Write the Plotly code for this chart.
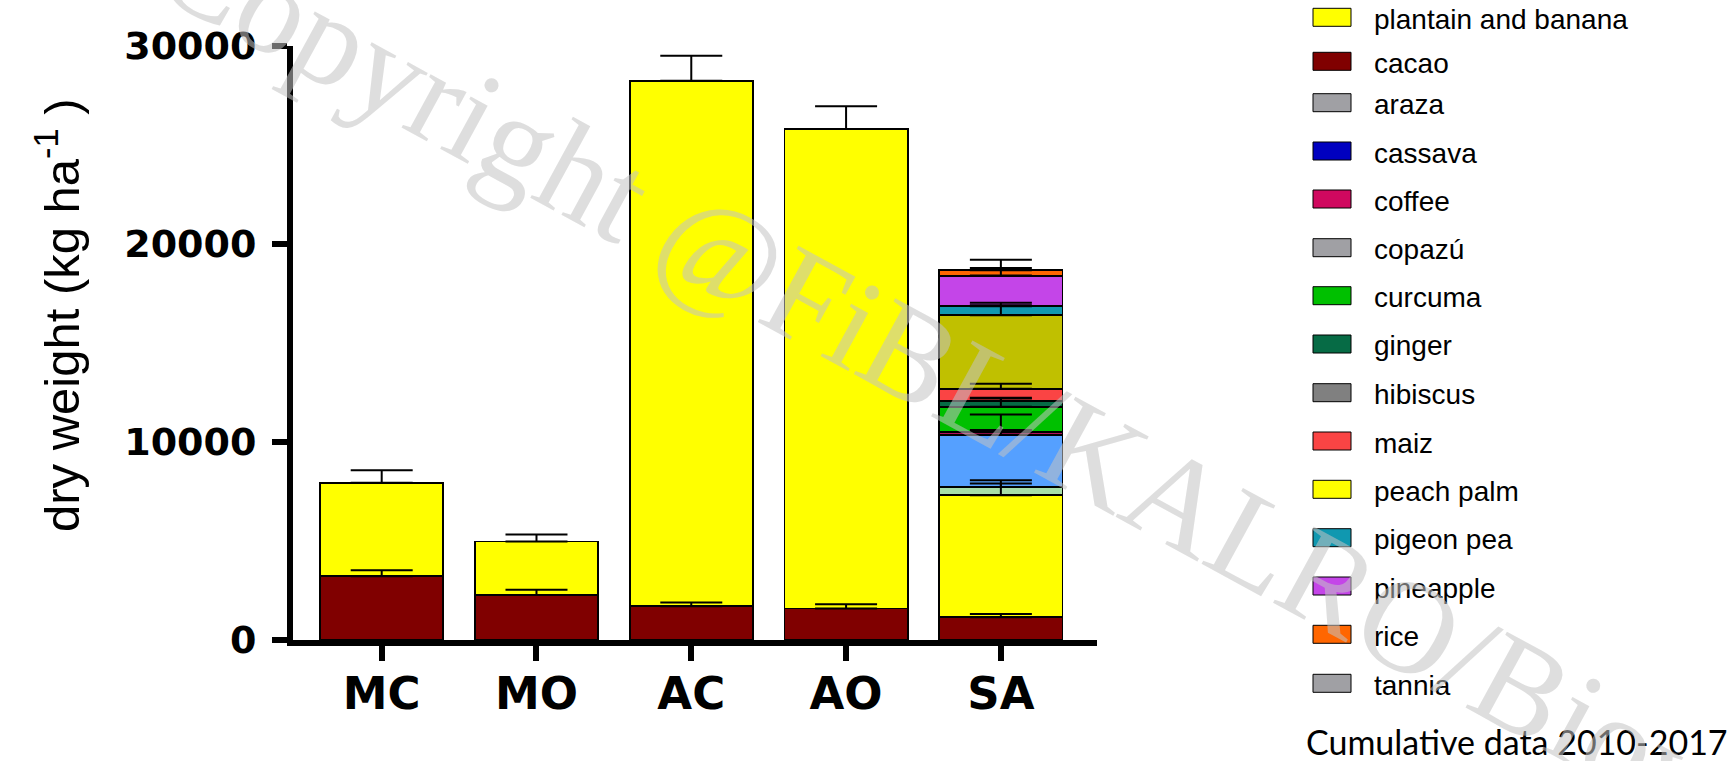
import numpy as np
import plotly.graph_objects as go

# ---- data -------------------------------------------------------------
categories = ["MC", "MO", "AC", "AO", "SA"]

# mean dry weight (kg/ha) and standard error per system; None = crop absent
cacao = [3225, 2272, 1704, 1587, 1145]
cacao_se = [300, 268, 184, 217, 166]
plantain_banana = [4712, 2707, 26547, 24226, 6166]
plantain_banana_se = [634, 351, 1258, 1149, 590]
araza = [None, None, None, None, 419]
araza_se = [0, 0, 0, 0, 337]
cassava = [None, None, None, None, 2642]
cassava_se = [0, 0, 0, 0, 1020]
coffee = [None, None, None, None, 141]
coffee_se = [0, 0, 0, 0, 90]
copazu = [None, None, None, None, None]
copazu_se = [0, 0, 0, 0, 0]
curcuma = [None, None, None, None, 1270]
curcuma_se = [0, 0, 0, 0, 419]
ginger = [None, None, None, None, 283]
ginger_se = [0, 0, 0, 0, 171]
hibiscus = [None, None, None, None, None]
hibiscus_se = [0, 0, 0, 0, 0]
maiz = [None, None, None, None, 625]
maiz_se = [0, 0, 0, 0, 252]
peach_palm = [None, None, None, None, 3711]
peach_palm_se = [0, 0, 0, 0, 505]
pigeon_pea = [None, None, None, None, 454]
pigeon_pea_se = [0, 0, 0, 0, 171]
pineapple = [None, None, None, None, 1548]
pineapple_se = [0, 0, 0, 0, 380]
rice = [None, None, None, None, 267]
rice_se = [0, 0, 0, 0, 539]
tannia = [None, None, None, None, None]
tannia_se = [0, 0, 0, 0, 0]

y_ticks = [0, 10000, 20000, 30000]
y_title = "dry weight (kg ha<sup>-1</sup> )"
note = "Cumulative data 2010-2017"
watermark = "Copyright @FiBL/KALRO/Biovision"

# stacking order, bottom to top
stack = [
    ("cacao", cacao, cacao_se),
    ("plantain and banana", plantain_banana, plantain_banana_se),
    ("araza", araza, araza_se),
    ("cassava", cassava, cassava_se),
    ("coffee", coffee, coffee_se),
    ("copazú", copazu, copazu_se),
    ("curcuma", curcuma, curcuma_se),
    ("ginger", ginger, ginger_se),
    ("hibiscus", hibiscus, hibiscus_se),
    ("maiz", maiz, maiz_se),
    ("peach palm", peach_palm, peach_palm_se),
    ("pigeon pea", pigeon_pea, pigeon_pea_se),
    ("pineapple", pineapple, pineapple_se),
    ("rice", rice, rice_se),
    ("tannia", tannia, tannia_se),
]

# legend order
legend_order = ["plantain and banana", "cacao", "araza", "cassava", "coffee", "copazú",
                "curcuma", "ginger", "hibiscus", "maiz", "peach palm", "pigeon pea",
                "pineapple", "rice", "tannia"]

# ---- styles -------------------------------------------------------------
bar_color = {
    "cacao": "#800000", "plantain and banana": "#FFFF00", "araza": "#A8DFA8",
    "cassava": "#55A0FF", "coffee": "#B0105A", "copazú": "#A0A0A4",
    "curcuma": "#00C000", "ginger": "#066B45", "hibiscus": "#808080",
    "maiz": "#FA4444", "peach palm": "#C0C000", "pigeon pea": "#1098B0",
    "pineapple": "#C445E8", "rice": "#FF6600", "tannia": "#A0A0A4",
}
key_color = dict(bar_color)
key_color.update({"araza": "#A0A0A4", "cassava": "#0000C0", "coffee": "#D0085F",
                  "peach palm": "#FFFF00"})

W, H = 1727, 761
L, R, T, B = 293, 630, 46, 121
PW, PH = W - L - R, H - T - B


def px(x):
    return (x - L) / PW


def py(y):
    return (H - B - y) / PH


fig = go.Figure()

# stacked bars
for name, vals, errs in stack:
    if all(v is None for v in vals):
        continue
    fig.add_trace(go.Bar(
        x=categories, y=vals, name=name,
        marker=dict(color=bar_color[name], line=dict(color="black", width=1.8)),
        hoverinfo="skip", showlegend=False,
    ))

# error bars (upper only) at the top of every stacked segment, drawn above all bars
base = np.zeros(len(categories))
for name, vals, errs in stack:
    v = np.array([np.nan if x is None else x for x in vals], dtype=float)
    top = base + np.nan_to_num(v)
    if not np.all(np.isnan(v)):
        tops = [float(t) if not np.isnan(s) else None for t, s in zip(top, v)]
        fig.add_trace(go.Scatter(
            x=categories, y=tops, mode="markers",
            marker=dict(size=1, color="rgba(0,0,0,0)"),
            error_y=dict(type="data", symmetric=False, array=errs,
                         arrayminus=[0] * len(errs), width=31, thickness=2,
                         color="black"),
            hoverinfo="skip", showlegend=False,
        ))
    base = top

fig.update_layout(
    width=W, height=H,
    margin=dict(l=L, r=R, t=T, b=B),
    barmode="stack", bargap=0.205,
    plot_bgcolor="white", paper_bgcolor="white",
    showlegend=False,
)

fig.update_xaxes(
    type="category", range=[-0.573, 4.621],
    showline=True, linewidth=6, linecolor="black",
    ticks="outside", ticklen=15, tickwidth=6, tickcolor="black",
    tickfont=dict(family="DejaVu Sans", size=45, color="black", weight="bold"),
    ticklabelstandoff=-6,
    showgrid=False, zeroline=False,
)
fig.update_yaxes(
    range=[0, 30000], tickvals=y_ticks, tickformat="d",
    showline=True, linewidth=6, linecolor="black",
    ticks="outside", ticklen=15, tickwidth=6, tickcolor="black",
    tickfont=dict(family="DejaVu Sans", size=38, color="black", weight="bold"),
    ticklabelstandoff=8,
    showgrid=False, zeroline=False,
)

shapes, annotations = [], []

# y-axis title, rotated
annotations.append(dict(xref="paper", yref="paper", x=px(58), y=py(315),
                        xanchor="center", yanchor="middle", showarrow=False,
                        text=y_title, textangle=-90,
                        font=dict(family="Liberation Sans", size=49, color="black")))

# legend key: swatches and names
key_y = [17.3, 61.3, 102.7, 151, 199, 247.7, 295.7, 344, 392.7, 441, 489.3, 537.7,
         586, 634.3, 683.3]
for name, yc in zip(legend_order, key_y):
    shapes.append(dict(type="rect", xref="paper", yref="paper",
                       x0=px(1313), x1=px(1351), y0=py(yc + 9), y1=py(yc - 9),
                       fillcolor=key_color[name], line=dict(color="black", width=1)))
    annotations.append(dict(xref="paper", yref="paper", x=px(1372), y=py(yc + 2),
                            xanchor="left", yanchor="middle", showarrow=False,
                            text=name,
                            font=dict(family="Liberation Sans", size=28, color="black")))

annotations.append(dict(xref="paper", yref="paper", x=px(1304), y=py(741),
                        xanchor="left", yanchor="middle", showarrow=False, text=note,
                        font=dict(family="Lato", size=34, color="black")))

# diagonal copyright mark over the whole figure
annotations.append(dict(xref="paper", yref="paper", x=px(1052), y=py(431),
                        xanchor="center", yanchor="middle", showarrow=False,
                        text=watermark, textangle=28.6,
                        font=dict(family="Liberation Serif", size=132,
                                  color="rgba(195,195,195,0.55)")))

fig.update_layout(shapes=shapes, annotations=annotations)

fig.write_html("out.html", config={"displayModeBar": False})
